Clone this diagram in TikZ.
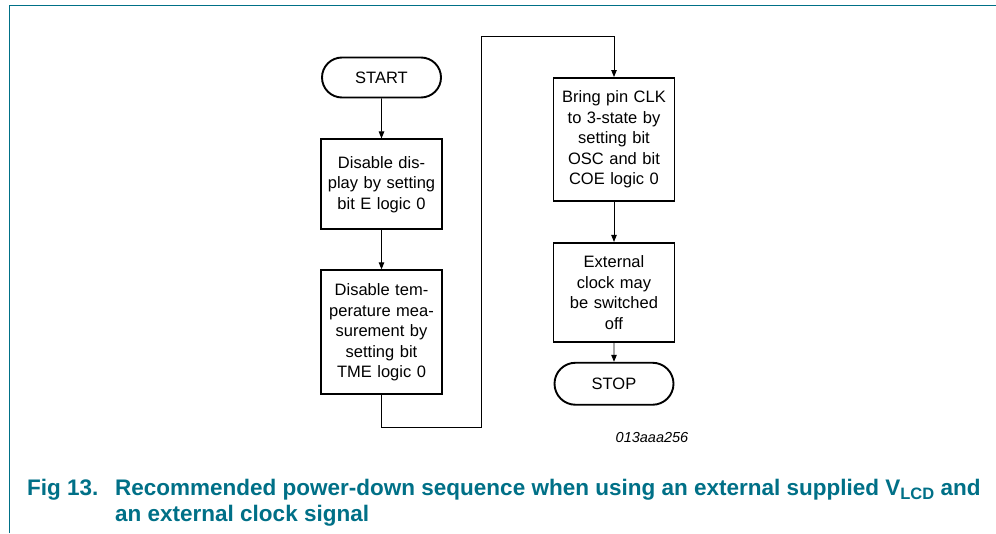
\documentclass[tikz,border=0pt]{standalone}
\usepackage{fontspec}
\setmainfont{Liberation Sans}
\usetikzlibrary{positioning,shapes.misc,arrows.meta}
\definecolor{figteal}{RGB}{0,112,135}

\begin{document}
\begin{tikzpicture}[x=1pt,y=-1pt,>={Triangle[length=7pt,width=5.5pt]},node distance=40pt,
    every node/.style={font=\fontsize{16.5}{20.5}\selectfont}]
  \tikzset{
    stepbox/.style={draw=black,line width=1.9pt,rectangle,minimum width=121pt,
      text width=115pt,align=center,inner sep=0pt},
    termbox/.style={draw=black,line width=1.9pt,rounded rectangle,
      minimum width=119pt,minimum height=40pt,inner sep=0pt},
    flow/.style={->,draw=black,line width=0.9pt}
  }
  \useasboundingbox (0,0) rectangle (996,533);
  % frame
  \draw[figteal,line width=1pt] (9,533) -- (9,5.5) -- (996,5.5);

  % left column
  \node[termbox] (start) at (381.5,77.5) {START};
  \node[stepbox,minimum height=90pt,below=40pt of start] (dispoff)
    {Disable dis-\\play by setting\\bit E logic 0};
  \node[stepbox,minimum height=124pt,below=39pt of dispoff] (tempoff)
    {Disable tem-\\perature mea-\\surement by\\setting bit\\TME logic 0};

  % right column
  \node[stepbox,minimum height=123pt,anchor=north] (clkoff) at (614,77)
    {Bring pin CLK\\to 3-state by\\setting bit\\OSC and bit\\COE logic 0};
  \node[stepbox,minimum height=99pt,below=40pt of clkoff] (extclk)
    {External\\clock may\\be switched\\off};
  \node[termbox,minimum height=42pt,below=19pt of extclk] (stop) {STOP};

  \coordinate (low) at (481,427);
  \coordinate (high) at (481,36);

  \draw[flow] (start) -- (dispoff);
  \draw[flow] (dispoff) -- (tempoff);
  \draw[flow] (tempoff.south) |- (low) -- (high) -| (clkoff.north);
  \draw[flow] (clkoff) -- (extclk);
  \draw[flow] (extclk) -- (stop);

  \node[font=\fontsize{14.5}{16}\selectfont\itshape] (figid) at (652,438) {013aaa256};

  % caption
  \node[anchor=base west,inner sep=0pt,text=figteal,
    font=\fontsize{22.5}{26}\selectfont\bfseries] (fignum) at (27,495) {Fig 13.};
  \node[anchor=base west,inner sep=0pt,text=figteal,align=left,
    font=\fontsize{22.5}{26}\selectfont\bfseries] (figtitle) at (115,521)
    {Recommended power-down sequence when using an external supplied
     V\raisebox{-0.22em}{\fontsize{16.5}{16}\selectfont LCD} and\\an external clock signal};
\end{tikzpicture}
\end{document}
